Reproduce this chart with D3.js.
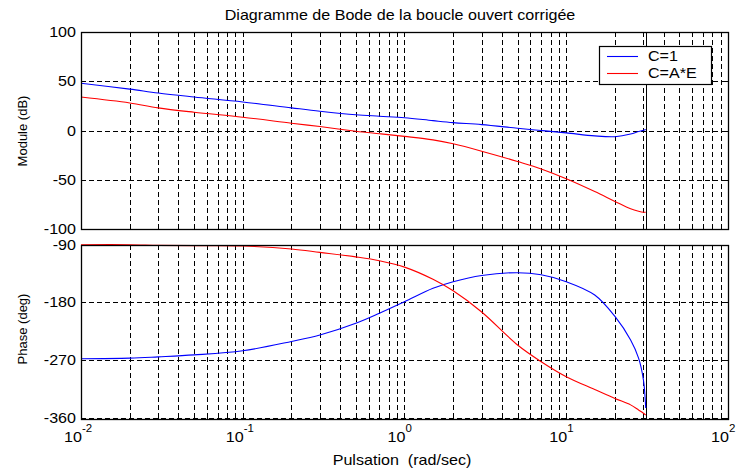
<!DOCTYPE html>
<html>
<head>
<meta charset="utf-8">
<script src="https://cdn.jsdelivr.net/npm/d3@7"></script>
<style>
  html, body { margin: 0; padding: 0; background: #fff; }
  svg { display: block; }
  text { font-family: "Liberation Sans", Arial, Helvetica, sans-serif; fill: #000; white-space: pre; }
</style>
</head>
<body>
<svg id="chart" width="742" height="468"></svg>
<script>
// Frequency samples (rad/sec)
const freq = [0.01, 0.02, 0.03, 0.05, 0.1, 0.2, 0.3, 0.5, 0.7, 1, 1.5, 2, 3, 5, 7, 10, 15, 20, 25, 28, 30, 31];

// Gain (dB)
const magC1 = [48, 42, 38, 34, 29, 23, 19.6, 16, 14.5, 13, 10, 8, 6, 2.3, 0, -2.4, -5.5, -6.3, -3.6, -1, 0.3, 1];
const magCAE = [34, 28, 23, 18.6, 13.5, 7.4, 4, -0.7, -3.3, -6, -9.5, -13.5, -21, -31.5, -39, -49, -62, -72, -79.5, -82, -83, -83];

// Phase (deg)
const phaseC1 = [-268, -267, -265, -262, -255.5, -241, -231, -212.7, -197, -179, -158, -147.7, -138, -133.7, -137, -147.7, -168.5, -202, -238.7, -267, -301, -345];
const phaseCAE = [-90, -90, -91, -91.5, -92, -96.7, -102, -109, -115, -125, -144, -162, -195, -246.5, -272.6, -296, -316, -330, -340, -348, -353, -356];

// Axis ticks and labels
const magTicks = [100, 50, 0, -50, -100];
const phaseTicks = [-90, -180, -270, -360];
const decadeExponents = [-2, -1, 0, 1, 2];
const endFrequency = 31;

const seriesNames = ["C=1", "C=A*E"];
const seriesColors = ["#0000ff", "#ff0000"];

const titleText = "Diagramme de Bode de la boucle ouvert corrigée";
const xLabelText = "Pulsation  (rad/sec)";
const magLabelText = "Module (dB)";
const phaseLabelText = "Phase (deg)";

const svg = d3.select("#chart");
const STRETCH = 1.15;

const x = d3.scaleLog().domain([0.01, 100]).range([81, 728]);
const yMag = d3.scaleLinear().domain([-100, 100]).range([229, 32]);
const yPhase = d3.scaleLinear().domain([-360, -90]).range([417.7, 244.7]);

const panels = [
  { y: yMag, top: 32, bottom: 229, ticks: magTicks, series: [magC1, magCAE] },
  { y: yPhase, top: 244.7, bottom: 419, ticks: phaseTicks, series: [phaseC1, phaseCAE] }
];

// All log grid positions strictly inside the x range
const minorX = [];
for (let k = -2; k < 2; k++) {
  for (let m = 1; m <= 9; m++) {
    const v = m * Math.pow(10, k);
    if (v > 0.01 && v < 100) minorX.push(v);
  }
}

// text horizontally widened, like the screen font
function label(g, str, px, py, size, anchor) {
  return g.append("text")
    .attr("transform", `translate(${px},${py}) scale(${STRETCH},1)`)
    .attr("font-size", size)
    .attr("text-anchor", anchor || "start")
    .text(str);
}

const snap = v => Math.round(v) + 0.5;

panels.forEach(p => {
  const g = svg.append("g");
  const left = x.range()[0], right = x.range()[1];

  // dashed grid
  const grid = g.append("g").attr("stroke", "#000").attr("stroke-dasharray", "5,3")
    .attr("shape-rendering", "crispEdges").attr("stroke-width", 1);
  minorX.forEach(v => {
    grid.append("line").attr("x1", snap(x(v))).attr("x2", snap(x(v)))
      .attr("y1", p.top).attr("y2", p.bottom);
  });
  p.ticks.forEach(t => {
    grid.append("line").attr("x1", left).attr("x2", right)
      .attr("y1", snap(p.y(t))).attr("y2", snap(p.y(t)));
  });

  // tick marks on all four sides
  const tk = g.append("g").attr("stroke", "#000").attr("shape-rendering", "crispEdges");
  minorX.forEach(v => {
    const xv = snap(x(v));
    tk.append("line").attr("x1", xv).attr("x2", xv).attr("y1", p.top).attr("y2", p.top + 5);
    tk.append("line").attr("x1", xv).attr("x2", xv).attr("y1", p.bottom).attr("y2", p.bottom - 5);
  });
  p.ticks.forEach(t => {
    const yv = snap(p.y(t));
    tk.append("line").attr("x1", left).attr("x2", left + 5).attr("y1", yv).attr("y2", yv);
    tk.append("line").attr("x1", right).attr("x2", right - 5).attr("y1", yv).attr("y2", yv);
  });

  // solid marker at the last computed frequency
  g.append("line").attr("x1", snap(x(endFrequency))).attr("x2", snap(x(endFrequency)))
    .attr("y1", p.top).attr("y2", p.bottom).attr("stroke", "#000")
    .attr("stroke-width", 1.2).attr("shape-rendering", "crispEdges");

  // curves
  p.series.forEach((vals, i) => {
    const line = d3.line().x((d, j) => x(freq[j])).y(d => p.y(d))
      .curve(d3.curveCatmullRom.alpha(0.5));
    g.append("path").datum(vals).attr("d", line).attr("fill", "none")
      .attr("stroke", seriesColors[i]).attr("stroke-width", 1.1);
  });

  // frame
  g.append("rect").attr("x", left + 0.5).attr("y", Math.round(p.top) + 0.5)
    .attr("width", right - left).attr("height", Math.round(p.bottom) - Math.round(p.top))
    .attr("fill", "none").attr("stroke", "#000").attr("stroke-width", 1.3);

  // y tick labels
  p.ticks.forEach(t => {
    label(svg, String(t), 76, p.y(t) + 5, 14, "end");
  });
});

// x tick labels as powers of ten
decadeExponents.forEach(e => {
  const xv = x(Math.pow(10, e));
  label(svg, "10", xv + 1, 442, 14, "end");
  label(svg, String(e), xv + 1, 432, 10, "start");
});

// titles
label(svg, titleText, 400, 20, 14, "middle");
label(svg, xLabelText, 402, 465, 14, "middle");
svg.append("text").attr("transform", "translate(27,131) rotate(-90)")
  .attr("font-size", 13).attr("text-anchor", "middle").text(magLabelText);
svg.append("text").attr("transform", "translate(27,329) rotate(-90)")
  .attr("font-size", 13).attr("text-anchor", "middle").text(phaseLabelText);

// legend
const lg = svg.append("g");
lg.append("rect").attr("x", 599.5).attr("y", 46.5).attr("width", 112).attr("height", 38)
  .attr("fill", "#fff").attr("stroke", "#000").attr("stroke-width", 1.2);
seriesNames.forEach((n, i) => {
  const yy = 56.5 + i * 17;
  lg.append("line").attr("x1", 607).attr("x2", 638).attr("y1", yy).attr("y2", yy)
    .attr("stroke", seriesColors[i]).attr("stroke-width", 1.1);
  label(lg, n, 648, 61 + i * 17, 14, "start");
});
</script>
</body>
</html>
